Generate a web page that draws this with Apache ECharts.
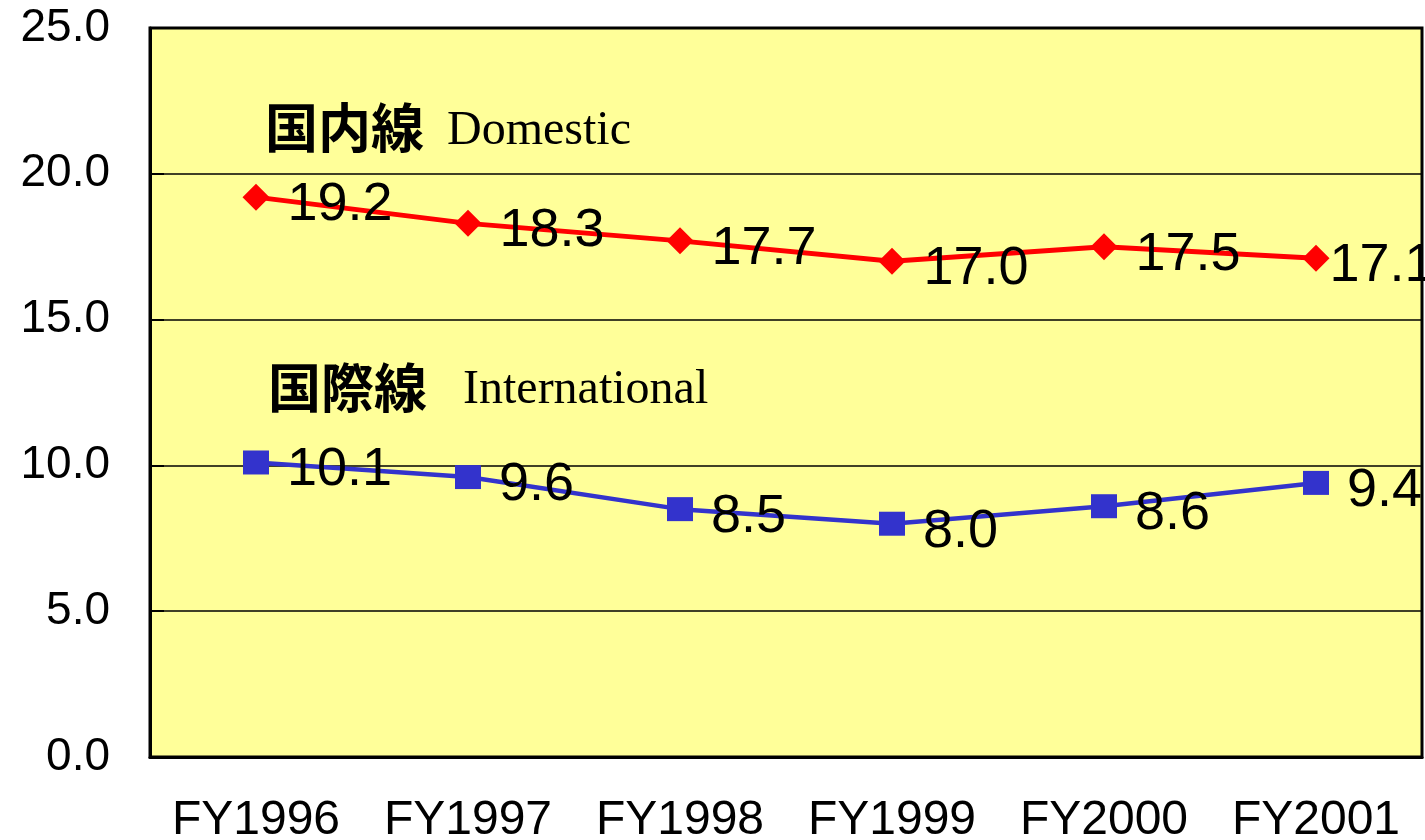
<!DOCTYPE html>
<html>
<head>
<meta charset="utf-8">
<script src="https://cdn.jsdelivr.net/npm/echarts@6/dist/echarts.min.js"></script>
<style>
  html, body { margin: 0; padding: 0; background: #fff; }
  #myChart { width: 1425px; height: 840px; }
</style>
</head>
<body>
<div id="myChart"></div>
<script>
// 年度
const years = ['FY1996', 'FY1997', 'FY1998', 'FY1999', 'FY2000', 'FY2001'];
// 国内線
const domestic = [19.2, 18.3, 17.7, 17.0, 17.5, 17.1];
// 国際線
const international = [10.1, 9.6, 8.5, 8.0, 8.6, 9.4];

const chart = echarts.init(document.getElementById('myChart'));

const labelStyle = {
  show: true,
  position: 'right',
  distance: 18,
  offset: [0, 8],
  color: '#000',
  fontFamily: 'Liberation Sans, Arial, sans-serif',
  fontSize: 54,
  formatter: p => p.value.toFixed(1)
};

// 最後のラベルは枠の端で切れるので少し左へ
const domesticData = domestic.map((v, i) =>
  i === domestic.length - 1 ? { value: v, label: { distance: 0 } } : v
);

chart.setOption({
  animation: false,
  grid: {
    left: 150,
    right: 3,
    top: 28,
    bottom: 83,
    outerBoundsMode: 'none',
    show: true,
    backgroundColor: '#FFFF99',
    borderColor: '#000',
    borderWidth: 3
  },
  xAxis: {
    type: 'category',
    data: years,
    boundaryGap: true,
    axisLine: { lineStyle: { color: '#000', width: 3 } },
    axisTick: { inside: true, length: 14, lineStyle: { color: '#000', width: 2 } },
    axisLabel: {
      interval: 0,
      color: '#000',
      fontFamily: 'Liberation Sans, Arial, sans-serif',
      fontSize: 48,
      margin: 40
    }
  },
  yAxis: {
    type: 'value',
    min: 0,
    max: 25,
    interval: 5,
    axisLine: { show: true, lineStyle: { color: '#000', width: 3 } },
    axisTick: { show: true, inside: true, length: 14, lineStyle: { color: '#000', width: 2 } },
    splitLine: { lineStyle: { color: '#000', width: 1.5 } },
    axisLabel: {
      color: '#000',
      fontFamily: 'Liberation Sans, Arial, sans-serif',
      fontSize: 46,
      margin: 40,
      padding: [6, 0, 0, 0],
      formatter: v => v.toFixed(1)
    }
  },
  graphic: [
    { type: 'text', style: { x: 265, y: 128, verticalAlign: 'middle', text: '国内線', font: 'bold 53px "Noto Sans CJK JP"', fill: '#000' } },
    { type: 'text', style: { x: 447, y: 131, verticalAlign: 'middle', text: 'Domestic', font: '48px "Liberation Serif", serif', fill: '#000' } },
    { type: 'text', style: { x: 268, y: 388, verticalAlign: 'middle', text: '国際線', font: 'bold 53px "Noto Sans CJK JP"', fill: '#000' } },
    { type: 'text', style: { x: 463, y: 390, verticalAlign: 'middle', text: 'International', font: '48px "Liberation Serif", serif', fill: '#000' } }
  ],
  series: [
    {
      name: '国内線',
      type: 'line',
      data: domesticData,
      symbol: 'diamond',
      symbolSize: 27,
      itemStyle: { color: '#FF0000' },
      lineStyle: { color: '#FF0000', width: 5 },
      label: labelStyle
    },
    {
      name: '国際線',
      type: 'line',
      data: international,
      symbol: 'rect',
      symbolSize: [26, 24],
      itemStyle: { color: '#3333CC' },
      lineStyle: { color: '#3333CC', width: 4.5 },
      label: labelStyle
    }
  ]
});
</script>
</body>
</html>
